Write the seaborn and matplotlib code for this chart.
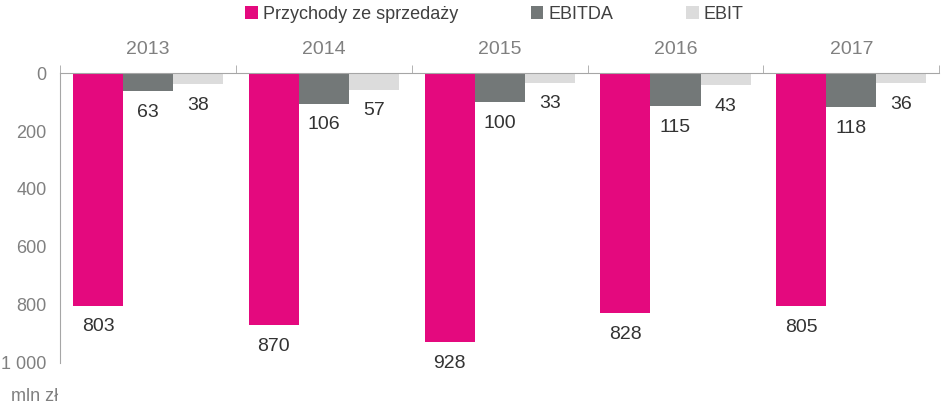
import pandas as pd
import numpy as np
import matplotlib.pyplot as plt
import seaborn as sns

# dane (mln zł)
years = ['2013', '2014', '2015', '2016', '2017']
przychody = [803, 870, 928, 828, 805]
ebitda = [63, 106, 100, 115, 118]
ebit = [38, 57, 33, 43, 36]
series_names = ['Przychody ze sprzedaży', 'EBITDA', 'EBIT']
colors = ['#E4097E', '#737878', '#DCDCDC']
y_ticks = [0, 200, 400, 600, 800, 1000]
y_tick_labels = ['0', '200', '400', '600', '800', '1 000']

df = pd.DataFrame({
    'rok': years * 3,
    'seria': [series_names[0]] * 5 + [series_names[1]] * 5 + [series_names[2]] * 5,
    'wartosc': przychody + ebitda + ebit,
})

sns.set_style('white')
plt.rcParams['font.family'] = ['Liberation Sans', 'DejaVu Sans']

fig = plt.figure(figsize=(9.42, 4.09), dpi=100)
ax = fig.add_axes([0.064, 0.1125, 0.933, 0.709])

sns.barplot(data=df, x='rok', y='wartosc', hue='seria', hue_order=series_names,
            palette=colors, width=0.855, gap=0, saturation=1, errorbar=None,
            linewidth=0, ax=ax)

# os odwrocona - slupki "wisza" od zera
ax.set_ylim(1000, 0)
ax.set_xlim(-0.5, 4.5)

for c in ax.containers:
    ax.bar_label(c, padding=9, fontsize=14, color='#333333')

ax.set_yticks(y_ticks)
ax.set_yticklabels(y_tick_labels)
ax.tick_params(axis='y', length=5, color='#A6A6A6', labelcolor='#808080', labelsize=13, pad=5)

ax.xaxis.tick_top()
ax.set_xticks(np.arange(-0.5, 5, 1), minor=True)
ax.tick_params(axis='x', which='major', length=0, pad=11, labelsize=14, labelcolor='#808080')
ax.tick_params(axis='x', which='minor', length=6, color='#A6A6A6', top=True)

for s in ['right', 'bottom']:
    ax.spines[s].set_visible(False)
for s in ['top', 'left']:
    ax.spines[s].set_color('#A6A6A6')

ax.set_xlabel('')
ax.set_ylabel('')

handles, labels = ax.get_legend_handles_labels()
ax.get_legend().remove()
fig.legend(handles, labels, loc='upper center', bbox_to_anchor=(0.525, 1.025), ncol=3,
           frameon=False, handlelength=0.7, handleheight=0.7, handletextpad=0.3,
           columnspacing=4, fontsize=13, labelcolor='#404040')

fig.text(0.012, 0.02, 'mln zł', color='#808080', fontsize=13)

fig.savefig('out.png', dpi=100)
